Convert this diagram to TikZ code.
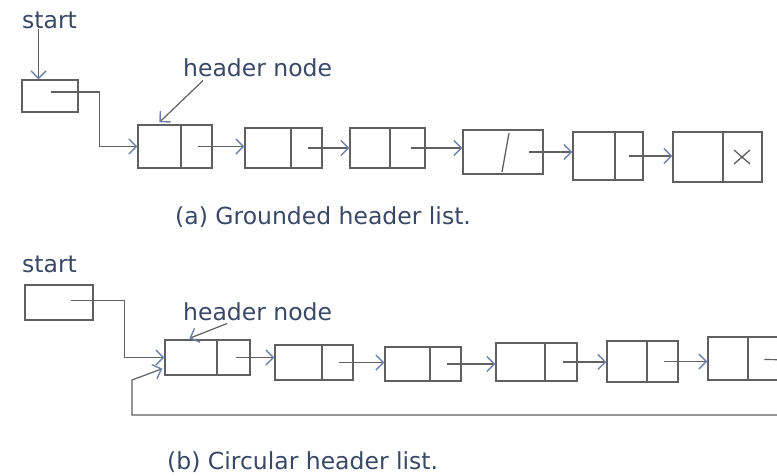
\documentclass[tikz,border=0pt]{standalone}
\usepackage{fontspec}
\setmainfont{DejaVu Sans}
\usetikzlibrary{arrows.meta,fit,calc}
\definecolor{txt}{HTML}{3A4868}
\definecolor{ln}{HTML}{606060}
\definecolor{ah}{HTML}{6F82AE}
\tikzset{
 box/.style={draw=ln, line width=1.3pt, inner sep=0pt},
 div/.style={draw=ln, line width=1.3pt},
 wire/.style={draw=ln, line width=1.2pt},
 arr/.style={draw=ln, line width=1.2pt, -{Straight Barb[length=7.5pt,width=15pt,line width=1.4pt,color=ah]}},
 lbl/.style={text=txt, font=\fontsize{23.5}{26}\selectfont, inner sep=0pt, anchor=base west},
}
\newcommand{\lnode}[6]{\node[box, fit={(#2,#3) (#4,#5)}] (#1) {};
  \draw[div] (#6,#3) -- (#6,#5);}
\newcommand{\nextarrow}[2]{\path ($(#1.east)+(-15,0)$) coordinate (#1-ptr);
  \draw[arr] (#1-ptr) -- (#1-ptr -| #2.west);}
\begin{document}
\begin{tikzpicture}[x=1pt,y=-1pt]
\useasboundingbox[fill=white] (0,0) rectangle (777,475);

% ---------- (a) grounded header list ----------
\node[lbl] (sa) at (22,28) {start};
\node[box, fit={(22,80) (78,112)}] (a0) {};
\lnode{a1}{138}{125}{212}{168}{181}
\lnode{a2}{245}{128}{322}{168}{291}
\lnode{a3}{350}{128}{425}{168}{390}
\node[box, fit={(463,130) (543,174)}] (a4) {};
\draw[div] (509,133) -- (502,172);
\lnode{a5}{573}{132}{643}{180}{615}
\lnode{a6}{673}{132}{762}{182}{723}
\draw[div] (734,150) -- (750,164) (734,164) -- (750,150);

\draw[arr] ([xshift=-11pt]sa.south) -- ([xshift=-11pt]sa.south |- a0.north);
\coordinate (a0p) at ($(a0.east)+(-28,-4)$);
\draw[arr] (a0p) -| ($(a1.west)+(-38,0)$) -- (a1.west);

\node[lbl] (hna) at (183,76) {header node};
\draw[arr] ($(hna.south west)+(20,4)$) -- ($(a1.north west)+(22,-2)$);

\nextarrow{a1}{a2}
\nextarrow{a2}{a3}
\nextarrow{a3}{a4}
\nextarrow{a4}{a5}
\nextarrow{a5}{a6}
\node[lbl] (capa) at (175,224) {(a) Grounded header list.};

% ---------- (b) circular header list ----------
\node[lbl] (sb) at (22,272) {start};
\node[box, fit={(25,285) (93,320)}] (b0) {};
\lnode{b1}{165}{340}{250}{375}{217}
\lnode{b2}{275}{345}{353}{380}{322}
\lnode{b3}{385}{347}{461}{381}{430}
\lnode{b4}{496}{343}{577}{381}{545}
\lnode{b5}{607}{341}{678}{382}{647}
\lnode{b6}{708}{337}{800}{380}{748}

\coordinate (b0p) at ($(b0.east)+(-23,-2)$);
\draw[arr] (b0p) -| ($(b1.west)+(-40,0)$) -- (b1.west);

\node[lbl] (hnb) at (183,320) {header node};
\draw[arr] ($(hnb.south west)+(44,3)$) -- ($(b1.north west)+(25,-1)$);

\nextarrow{b1}{b2}
\nextarrow{b2}{b3}
\nextarrow{b3}{b4}
\nextarrow{b4}{b5}
\nextarrow{b5}{b6}
\coordinate (b6out) at (800,360);
\draw[wire] ($(b6.west)+(57,1)$) -- (b6out);

\coordinate (rA) at (800,415);
\coordinate (rB) at (132,415);
\coordinate (rC) at (132,380);
\draw[arr] (rA) -- (rB) -- (rC) -- ($(b1.south west)+(-2,-7)$);

\node[lbl] (capb) at (167,469) {(b) Circular header list.};
\end{tikzpicture}
\end{document}
